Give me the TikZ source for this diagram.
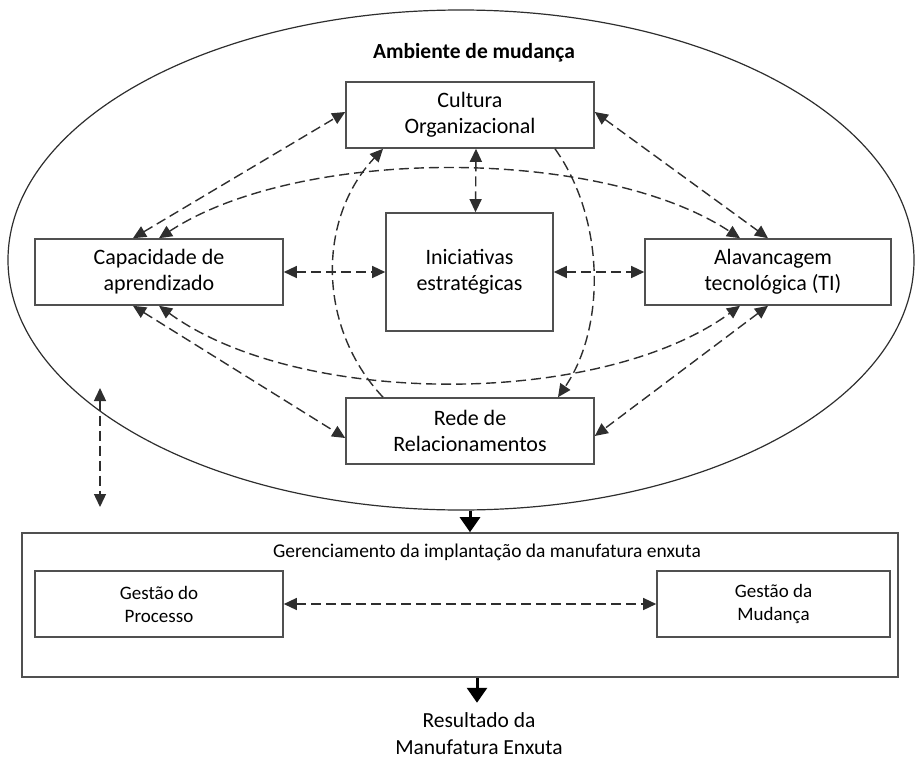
\documentclass[tikz,border=0pt]{standalone}
\usepackage{fontspec}
\setmainfont{Carlito}
\usetikzlibrary{arrows.meta,shapes.geometric}

\definecolor{linegray}{HTML}{2E2E2E}
\definecolor{boxgray}{HTML}{505050}

\tikzset{
  box/.style={draw=boxgray, line width=1.6pt, align=center, inner sep=0pt,
    font=\fontsize{22}{26}\selectfont},
  smallbox/.style={box, font=\fontsize{19}{23}\selectfont},
  link/.style={draw=linegray, line width=1.4pt, dash pattern=on 10pt off 5pt},
  tip/.style={-{Triangle[length=13pt,width=12pt]}},
  both/.style={{Triangle[length=13pt,width=12pt]}-{Triangle[length=13pt,width=12pt]}},
  bigarrow/.style={draw=black, line width=3pt, -{Triangle[length=15pt,width=20pt]}},
}

\begin{document}
\begin{tikzpicture}[x=1pt,y=-1pt]
  \useasboundingbox (0,0) rectangle (917,776);

  % change environment
  \node[draw=linegray, line width=1.2pt, ellipse, inner sep=0pt,
        minimum width=906pt, minimum height=500pt] (env) at (461,260) {};
  \node[font=\fontsize{21.5}{24}\selectfont\bfseries] (title) at (474,53) {Ambiente de mudança};

  % the five factors
  \node[box, minimum width=248pt, minimum height=66pt] (cult) at (470,115) {Cultura\\Organizacional};
  \node[box, minimum width=248pt, minimum height=66pt] (cap) at (159,272) {Capacidade de\\aprendizado};
  \node[box, minimum width=167pt, minimum height=118pt] (inic) at (469.5,272) {Iniciativas\\estratégicas};
  \node[box, minimum width=246pt, minimum height=66pt] (alav) at (768,272) {\hspace*{10pt}Alavancagem\\\hspace*{10pt}tecnológica (TI)};
  \node[box, minimum width=248pt, minimum height=66pt] (rede) at (470,431) {Rede de\\Relacionamentos};

  % straight links
  \draw[link, both] ([xshift=-26pt]cap.north) -- ([yshift=3pt]cult.west);
  \draw[link, both] ([yshift=3pt]cult.east) -- (alav.north);
  \draw[link, both] ([xshift=6pt]cult.south) -- ([xshift=6pt]inic.north);
  \draw[link, both] (cap.east) -- (inic.west);
  \draw[link, both] (inic.east) -- (alav.west);
  \draw[link, both] ([xshift=-26pt]cap.south) -- ([yshift=-7pt]rede.west);
  \draw[link, both] (alav.south) -- ([yshift=-5pt]rede.east);

  % curved links
  \draw[link, both] (cap.north) .. controls +(140,-92) and +(-140,-92) .. ([xshift=-28pt]alav.north);
  \draw[link, both] (cap.south) .. controls +(140,102) and +(-140,102) .. ([xshift=-28pt]alav.south);
  \draw[link, tip] ([xshift=-87pt]rede.north) .. controls +(-66,-70) and +(-66,70) .. ([xshift=-87pt]cult.south);
  \draw[link, tip] ([xshift=85pt]cult.south) .. controls +(50,70) and +(48,-70) .. ([xshift=88pt]rede.north);

  % free link on the left
  \coordinate (lvtop) at (100,388);
  \coordinate (lvbot) at (100,507);
  \draw[link, both] (lvtop) -- (lvbot);

  % lean implementation management
  \node[draw=boxgray, line width=1.6pt, minimum width=876pt, minimum height=144pt, inner sep=0pt] (outer) at (460,605) {};
  \node[font=\fontsize{19.5}{22}\selectfont] (mgmt) at (487,552) {Gerenciamento da implantação da manufatura enxuta};
  \node[smallbox, minimum width=248pt, minimum height=66pt] (gp) at (159,604) {Gestão do\\Processo};
  \node[smallbox, minimum width=233pt, minimum height=66pt] (gm) at (773.5,604) {Gestão da\\Mudança};
  \draw[link, both] (gp.east) -- (gm.west);

  % flow downwards
  \draw[bigarrow] ([xshift=9pt]env.south) -- ([xshift=10pt]outer.north);
  \node[align=center, inner sep=0pt, font=\fontsize{21.5}{27}\selectfont] (res) at (479,734) {Resultado da\\Manufatura Enxuta};
  \draw[bigarrow] ([xshift=17pt]outer.south) -- ([xshift=-2pt, yshift=10pt]res.north);
\end{tikzpicture}
\end{document}
